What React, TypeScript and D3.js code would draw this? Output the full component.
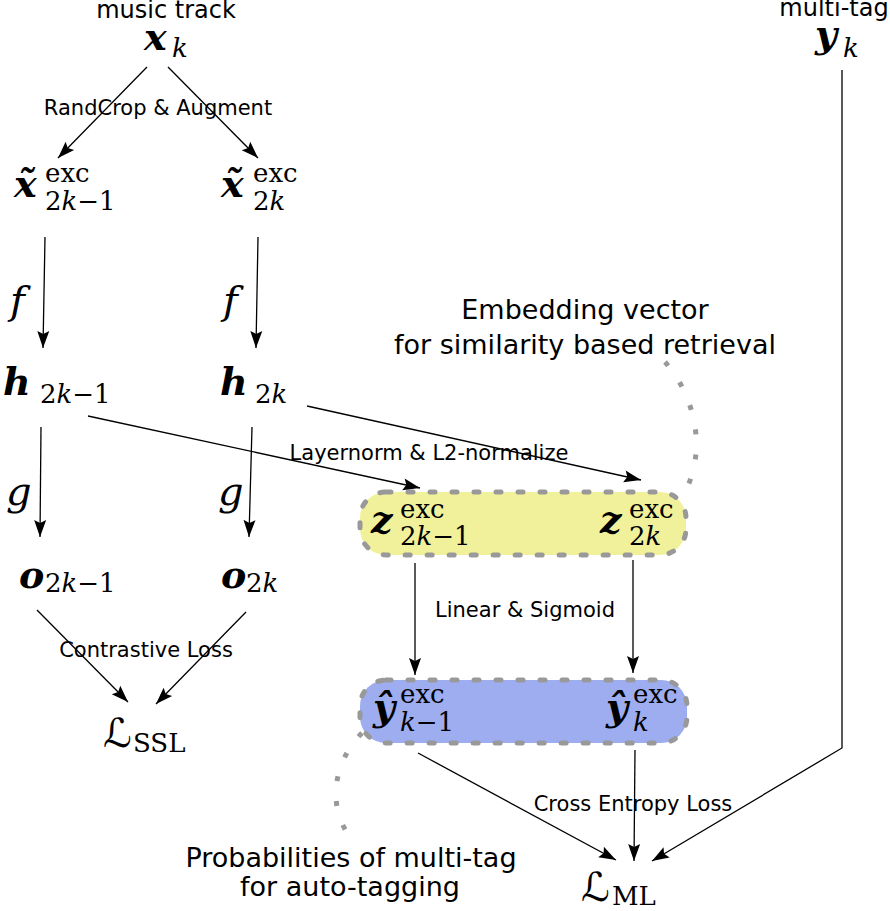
import React from "react";
import * as d3 from "d3";

// ---- diagram content ----
const nodeIds = ["xk", "x1", "x2", "h1", "h2", "o1", "o2", "z1", "z2", "yh1", "yh2", "yk", "lssl", "lml"];
const nodeBase = ["x", "x\u0303", "x\u0303", "h", "h", "o", "o", "z", "z", "\u0177", "\u0177", "y", "\u2112", "\u2112"];
const nodeSup = ["", "exc", "exc", "", "", "", "", "exc", "exc", "exc", "exc", "", "", ""];
const nodeSub = ["k", "2k\u22121", "2k", "2k\u22121", "2k", "2k\u22121", "2k", "2k\u22121", "2k", "k\u22121", "k", "k", "SSL", "ML"];

const funcLabels = ["f", "f", "g", "g"];
const edgeLabels = ["RandCrop & Augment", "Contrastive Loss", "Layernorm & L2-normalize", "Linear & Sigmoid", "Cross Entropy Loss"];
const notes = ["music track", "multi-tag", "Embedding vector", "for similarity based retrieval", "Probabilities of multi-tag", "for auto-tagging"];

// ---- layout (pixels) ----
// [base x, baseline, script x, sup baseline, sub baseline]
const nodePos: number[][] = [
  [144, 50, 172, 0, 57],
  [14, 197, 45, 182, 210],
  [221, 197, 253, 182, 210],
  [3, 395, 40, 0, 403],
  [220, 395, 255, 0, 403],
  [19, 588, 45, 0, 592],
  [221, 588, 246, 0, 592],
  [371, 533, 400, 518, 545],
  [600, 533, 629, 518, 545],
  [373, 720, 400, 703, 731],
  [606, 720, 633, 703, 731],
  [815, 47, 843, 0, 57],
  [103, 747, 133, 0, 752],
  [581, 901, 612, 0, 905],
];
const funcPos = [[10, 314], [223, 314], [6, 505], [218, 505]];
const edgeLabelPos = [[158, 115], [146, 657], [429, 460], [525, 617], [633, 811]];
const notePos = [[166, 18], [834, 16], [585, 319], [585, 354], [351, 867], [350, 896]];

const arrows: [number, number][][] = [
  [[147, 67], [58, 158]],
  [[168, 67], [258, 158]],
  [[45, 237], [43, 348]],
  [[258, 237], [256, 348]],
  [[41, 427], [40, 537]],
  [[252, 427], [249, 537]],
  [[37, 610], [128, 702]],
  [[246, 612], [156, 704]],
  [[88, 416], [420, 488]],
  [[307, 406], [641, 480]],
  [[415, 563], [415, 675]],
  [[633, 560], [633, 673]],
  [[418, 753], [616, 860]],
  [[635, 750], [634, 861]],
  [[842, 70], [842, 748], [652, 861]],
];

const boxes = [
  { x: 360, y: 492, w: 326, h: 63, fill: "#f1f19b" },
  { x: 360, y: 680, w: 327, h: 63, fill: "#9dadf0" },
];

const SANS = "'DejaVu Sans', sans-serif";
const SERIF = "'DejaVu Serif', 'DejaVu Sans', serif";

const line = d3.line();

function dotted(p: number[]) {
  const path = d3.path();
  path.moveTo(p[0], p[1]);
  path.bezierCurveTo(p[2], p[3], p[4], p[5], p[6], p[7]);
  return path.toString();
}

const curves = [
  [665, 362, 692, 392, 708, 445, 686, 490],
  [362, 733, 333, 762, 328, 805, 348, 834],
];

function Script({ text, x, y }: { text: string; x: number; y: number }) {
  const parts = text.split(/(k)/).filter((s) => s.length > 0);
  return (
    <text x={x} y={y} fontFamily={SERIF} fontSize={26}>
      {parts.map((s, i) => (
        <tspan key={i} fontStyle={s === "k" ? "italic" : "normal"}>
          {s}
        </tspan>
      ))}
    </text>
  );
}

export default function App() {
  return (
    <svg
      width={890}
      height={911}
      style={{ position: "absolute", left: 0, top: 0, background: "#fff" }}
    >
      <defs>
        <marker
          id="ah"
          viewBox="-18 -7 19 14"
          refX={0}
          refY={0}
          markerWidth={19}
          markerHeight={14}
          markerUnits="userSpaceOnUse"
          orient="auto"
        >
          <path d="M-17,-6L0,0L-17,6L-14,0Z" fill="#000" />
        </marker>
      </defs>

      {boxes.map((b, i) => (
        <rect
          key={i}
          x={b.x}
          y={b.y}
          width={b.w}
          height={b.h}
          rx={26}
          fill={b.fill}
          stroke="#999"
          strokeWidth={5}
          strokeDasharray="5 17"
          strokeLinecap="round"
        />
      ))}

      {curves.map((c, i) => (
        <path
          key={i}
          d={dotted(c)}
          fill="none"
          stroke="#999"
          strokeWidth={5}
          strokeDasharray="5 20"
        />
      ))}

      {arrows.map((a, i) => (
        <path
          key={i}
          d={line(a) || ""}
          fill="none"
          stroke="#000"
          strokeWidth={1.3}
          markerEnd="url(#ah)"
        />
      ))}

      {edgeLabels.map((t, i) => (
        <text
          key={t}
          x={edgeLabelPos[i][0]}
          y={edgeLabelPos[i][1]}
          textAnchor="middle"
          fontFamily={SANS}
          fontSize={21}
        >
          {t}
        </text>
      ))}

      {notes.map((t, i) => (
        <text
          key={t}
          x={notePos[i][0]}
          y={notePos[i][1]}
          textAnchor="middle"
          fontFamily={SANS}
          fontSize={i < 2 ? 24 : 27}
        >
          {t}
        </text>
      ))}

      {funcLabels.map((t, i) => (
        <text
          key={i}
          x={funcPos[i][0]}
          y={funcPos[i][1]}
          fontFamily={SERIF}
          fontStyle="italic"
          fontSize={40}
        >
          {t}
        </text>
      ))}

      {nodeIds.map((id, i) => {
        const [bx, by, sx, supY, subY] = nodePos[i];
        const isL = nodeBase[i] === "\u2112";
        return (
          <g key={id}>
            <text
              x={bx}
              y={by}
              fontFamily={SERIF}
              fontWeight={isL ? "normal" : "bold"}
              fontStyle={isL ? "normal" : "italic"}
              fontSize={isL ? 40 : 38}
            >
              {nodeBase[i]}
            </text>
            {nodeSup[i] && (
              <text x={sx} y={supY} fontFamily={SERIF} fontSize={26}>
                {nodeSup[i]}
              </text>
            )}
            {isL ? (
              <text x={sx} y={subY} fontFamily={SERIF} fontSize={26}>
                {nodeSub[i]}
              </text>
            ) : (
              <Script text={nodeSub[i]} x={sx} y={subY} />
            )}
          </g>
        );
      })}
    </svg>
  );
}
